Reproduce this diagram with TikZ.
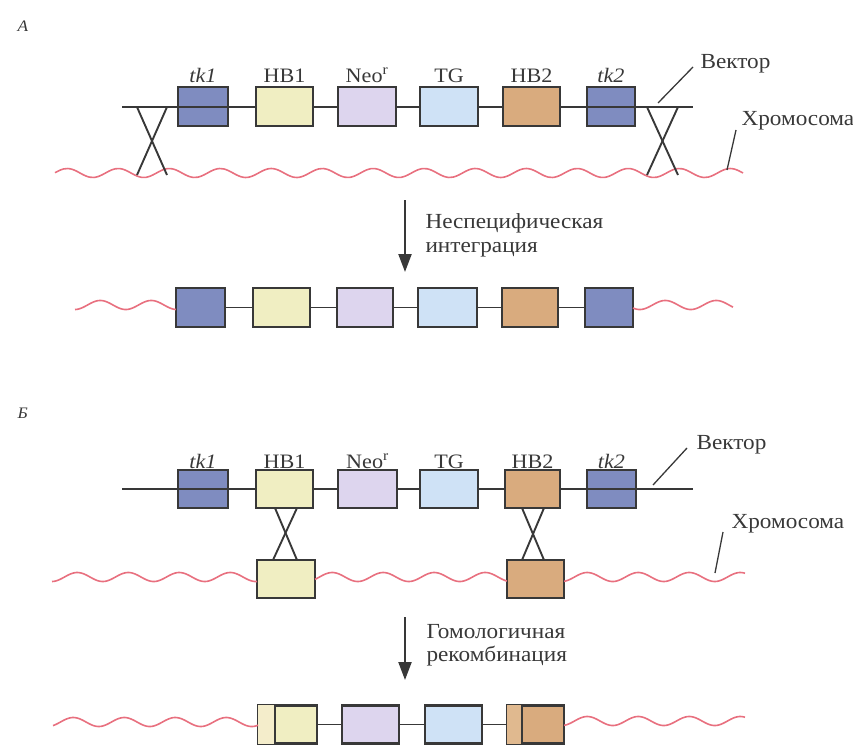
\documentclass[tikz,border=0pt]{standalone}
\usepackage{fontspec}
\setmainfont{Liberation Serif}[FakeStretch=1.08]
\usetikzlibrary{arrows.meta}
\definecolor{linec}{HTML}{383838}
\definecolor{tkc}{HTML}{7F8CC0}
\definecolor{hbonec}{HTML}{F0EEC2}
\definecolor{hbonel}{HTML}{F4EDCB}
\definecolor{neoc}{HTML}{DDD5EE}
\definecolor{tgc}{HTML}{CFE2F6}
\definecolor{hbtwoc}{HTML}{D9AB7E}
\definecolor{hbtwol}{HTML}{E0B98F}
\definecolor{chromc}{HTML}{E8707F}
\newcommand{\wavy}[4]{\draw[chrom, domain=#1:#2, samples=160, smooth] plot (\x, {#3 + 4.5*sin((\x-#4)*7.059)});}
\begin{document}
\begin{tikzpicture}[x=1pt,y=-1pt,
  gene/.style={draw=linec, line width=2.1pt, minimum height=39pt, inner sep=0pt},
  link/.style={draw=linec, line width=1.9pt},
  chrom/.style={draw=chromc, line width=1.6pt},
  lead/.style={draw=linec, line width=1.3pt},
  genelab/.style={anchor=base, font=\fontsize{20.5}{23}\selectfont, text=linec},
  itlab/.style={genelab, font=\fontsize{20.5}{23}\selectfont\itshape},
  note/.style={anchor=base west, font=\fontsize{21.5}{24}\selectfont, text=linec},
  panel/.style={anchor=base west, font=\fontsize{16}{18}\selectfont\itshape, text=linec},
  proc/.style={draw=linec, line width=2.2pt, -{Triangle[length=18pt,width=13pt]}}]
\useasboundingbox (0,0) rectangle (853,744);

% ---------------- Panel A ----------------
\node[panel] (la) at (14,31) {А};
\coordinate (avl) at (122,107);
\coordinate (avr) at (693,107);
\draw[link] (avl) -- (avr);
\node[gene, fill=tkc, minimum width=50pt] (atk1) at (203,106.5) {};
\node[gene, fill=hbonec, minimum width=57pt] (ahb1) at (284.5,106.5) {};
\node[gene, fill=neoc, minimum width=58pt] (aneo) at (367,106.5) {};
\node[gene, fill=tgc, minimum width=58pt] (atg) at (449,106.5) {};
\node[gene, fill=hbtwoc, minimum width=57pt] (ahb2) at (531.5,106.5) {};
\node[gene, fill=tkc, minimum width=48pt] (atk2) at (611,106.5) {};
\draw[link] (atk1.west |- avl) -- (atk1.east |- avl);
\draw[link] (atk2.west |- avl) -- (atk2.east |- avl);
\node[itlab] (ltk1) at (203,82) {tk1};
\node[genelab] (lhb1) at (284.5,82) {HB1};
\node[genelab] (lneo) at (367,82) {Neo\textsuperscript{r}};
\node[genelab] (ltg) at (449,82) {TG};
\node[genelab] (lhb2) at (531.5,82) {HB2};
\node[itlab] (ltk2) at (611,82) {tk2};
% chromosome
\wavy{55}{743}{173}{29}
% crossings
\coordinate (x1a) at (137,107); \coordinate (x1b) at (167,107);
\coordinate (x1c) at (137,175); \coordinate (x1d) at (167,175);
\draw[link] (x1a) -- (x1d); \draw[link] (x1b) -- (x1c);
\coordinate (x2a) at (647,107); \coordinate (x2b) at (678,107);
\coordinate (x2c) at (647,175); \coordinate (x2d) at (678,175);
\draw[link] (x2a) -- (x2d); \draw[link] (x2b) -- (x2c);
% labels
\node[note] (avec) at (697,68) {Вектор};
\node[note] (achr) at (738,125) {Хромосома};
\coordinate (avq) at (693,67); \coordinate (avp) at (658,103);
\coordinate (acq) at (736,130); \coordinate (acp) at (727,170);
\draw[lead] (avq) -- (avp);
\draw[lead] (acq) -- (acp);
% process arrow
\coordinate (aa1) at (405,200); \coordinate (aa2) at (405,272);
\draw[proc] (aa1) -- (aa2);
\node[note] (ta1) at (422,228) {Неспецифическая};
\node[note] (ta2) at (422,252) {интеграция};
% integrated row
\node[gene, fill=tkc, minimum width=49pt] (r1) at (200.5,307.5) {};
\node[gene, fill=hbonec, minimum width=57pt] (r2) at (281.5,307.5) {};
\node[gene, fill=neoc, minimum width=56pt] (r3) at (365,307.5) {};
\node[gene, fill=tgc, minimum width=59pt] (r4) at (447.5,307.5) {};
\node[gene, fill=hbtwoc, minimum width=56pt] (r5) at (530,307.5) {};
\node[gene, fill=tkc, minimum width=48pt] (r6) at (609,307.5) {};
\draw[link] (r1) -- (r2); \draw[link] (r2) -- (r3); \draw[link] (r3) -- (r4);
\draw[link] (r4) -- (r5); \draw[link] (r5) -- (r6);
\wavy{75}{176}{305}{62}
\wavy{633}{733}{305}{627}

% ---------------- Panel B ----------------
\node[panel] (lb) at (14,418) {Б};
\coordinate (bvl) at (122,489);
\coordinate (bvr) at (693,489);
\draw[link] (bvl) -- (bvr);
\node[gene, fill=tkc, minimum width=50pt, minimum height=38pt] (btk1) at (203,489) {};
\node[gene, fill=hbonec, minimum width=57pt, minimum height=38pt] (bhb1) at (284.5,489) {};
\node[gene, fill=neoc, minimum width=59pt, minimum height=38pt] (bneo) at (367.5,489) {};
\node[gene, fill=tgc, minimum width=58pt, minimum height=38pt] (btg) at (449,489) {};
\node[gene, fill=hbtwoc, minimum width=55pt, minimum height=38pt] (bhb2) at (532.5,489) {};
\node[gene, fill=tkc, minimum width=49pt, minimum height=38pt] (btk2) at (611.5,489) {};
\draw[link] (btk1.west |- bvl) -- (btk1.east |- bvl);
\draw[link] (btk2.west |- bvl) -- (btk2.east |- bvl);
\node[itlab] (mtk1) at (203,468) {tk1};
\node[genelab] (mhb1) at (284.5,468) {HB1};
\node[genelab] (mneo) at (367.5,468) {Neo\textsuperscript{r}};
\node[genelab] (mtg) at (449,468) {TG};
\node[genelab] (mhb2) at (532.5,468) {HB2};
\node[itlab] (mtk2) at (611.5,468) {tk2};
% chromosome with homologous segments
\node[gene, fill=hbonec, minimum width=58pt, minimum height=38pt] (chb1) at (286,579) {};
\node[gene, fill=hbtwoc, minimum width=57pt, minimum height=38pt] (chb2) at (535.5,579) {};
\wavy{52}{257}{577}{39}
\wavy{315}{507}{577}{39}
\wavy{564}{745}{577}{39}
% crossings
\coordinate (y1a) at (275,508); \coordinate (y1b) at (297,508);
\coordinate (y1c) at (273,560); \coordinate (y1d) at (297,560);
\draw[link] (y1a) -- (y1d); \draw[link] (y1b) -- (y1c);
\coordinate (y2a) at (522,508); \coordinate (y2b) at (544,508);
\coordinate (y2c) at (522,560); \coordinate (y2d) at (544,560);
\draw[link] (y2a) -- (y2d); \draw[link] (y2b) -- (y2c);
% labels
\node[note] (bvec) at (693,449) {Вектор};
\node[note] (bchr) at (728,528) {Хромосома};
\coordinate (bvq) at (687,448); \coordinate (bvp) at (653,485);
\coordinate (bcq) at (723,532); \coordinate (bcp) at (715,573);
\draw[lead] (bvq) -- (bvp);
\draw[lead] (bcq) -- (bcp);
% process arrow
\coordinate (ba1) at (405,617); \coordinate (ba2) at (405,680);
\draw[proc] (ba1) -- (ba2);
\node[note] (tb1) at (423,638) {Гомологичная};
\node[note] (tb2) at (423,661) {рекомбинация};
% recombined row
\node[gene, fill=hbonec, minimum width=59pt, minimum height=38pt] (s1) at (287.5,724.5) {};
\node[gene, fill=neoc, minimum width=57pt, minimum height=38pt] (s2) at (370.5,724.5) {};
\node[gene, fill=tgc, minimum width=57pt, minimum height=38pt] (s3) at (453.5,724.5) {};
\node[gene, fill=hbtwoc, minimum width=57pt, minimum height=38pt] (s4) at (535.5,724.5) {};
\fill[hbonel] ([xshift=1pt,yshift=-1pt]s1.north west) rectangle ([xshift=18pt,yshift=1pt]s1.south west);
\draw[link, line width=2.1pt] ([xshift=18pt]s1.north west) -- ([xshift=18pt]s1.south west);
\fill[hbtwol] ([xshift=1pt,yshift=-1pt]s4.north west) rectangle ([xshift=16pt,yshift=1pt]s4.south west);
\draw[link, line width=2.1pt] ([xshift=16pt]s4.north west) -- ([xshift=16pt]s4.south west);
\draw[link] (s1) -- (s2); \draw[link] (s2) -- (s3); \draw[link] (s3) -- (s4);
\wavy{53}{258}{722}{35}
\wavy{564}{745}{721}{549}
\end{tikzpicture}
\end{document}
